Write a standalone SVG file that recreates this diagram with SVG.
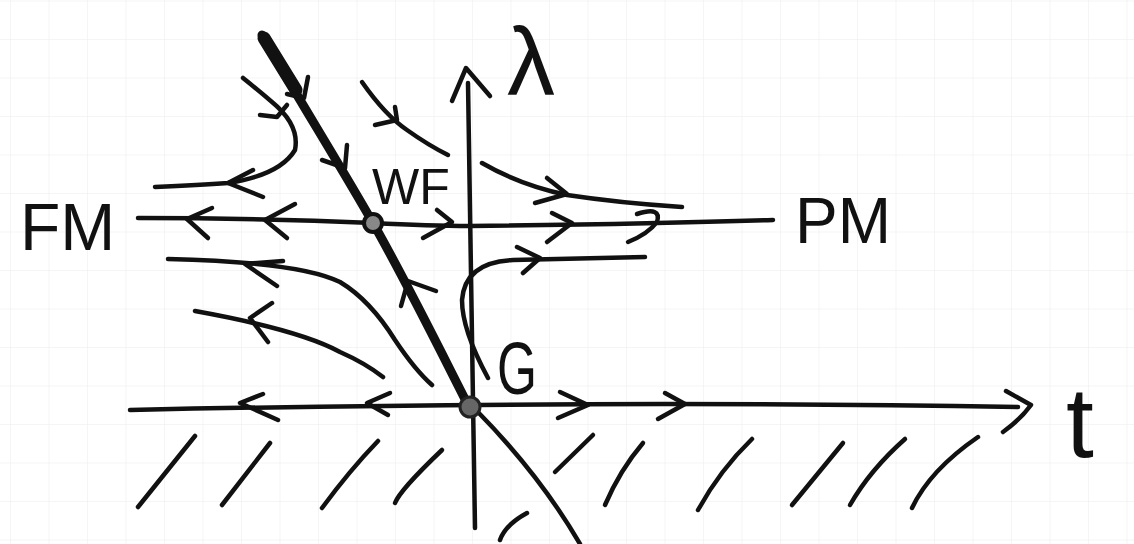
<svg xmlns="http://www.w3.org/2000/svg" width="1134" height="544" viewBox="0 0 1134 544">
<defs>
<pattern id="grid" width="38.5" height="38.5" patternUnits="userSpaceOnUse" x="11" y="1.5">
<path d="M38.5 0 V38.5 M0 38.5 H38.5" fill="none" stroke="#ececec" stroke-width="1"/>
</pattern>
</defs>
<style>
.s{fill:none;stroke:#111;stroke-width:4.5;stroke-linecap:round;stroke-linejoin:round}
.thick{fill:none;stroke:#111;stroke-width:9;stroke-linecap:round;stroke-linejoin:round}
.lbl{font-family:"Liberation Sans",Arial,sans-serif;fill:#111}
</style>
<rect width="1134" height="544" fill="#fff"/>
<rect width="1134" height="544" fill="url(#grid)"/>

<g id="t-axis">
<path class="s" d="M130,410 Q600,400 1018,407"/>
<path class="s" d="M1006,391 L1031,405 Q1020,420 1003,432"/>
<text class="lbl" x="1066" y="457" font-size="100">t</text>
</g>

<g id="lambda-axis">
<path class="s" d="M475,528 L468,83"/>
<path class="s" d="M452,101 L466,68 L490,96"/>
<text class="lbl" x="507" y="95" font-size="96" textLength="48" lengthAdjust="spacingAndGlyphs">λ</text>
</g>

<g id="hatching">
<path class="s" d="M138,507 L195,436"/>
<path class="s" d="M222,505 L270,443"/>
<path class="s" d="M322,508 Q350,470 378,441"/>
<path class="s" d="M395,503 Q400,490 442,450"/>
<path class="s" d="M555,472 L593,435"/>
<path class="s" d="M605,505 Q620,470 643,443"/>
<path class="s" d="M698,510 Q720,470 752,439"/>
<path class="s" d="M792,505 L843,443"/>
<path class="s" d="M850,505 Q870,470 905,439"/>
<path class="s" d="M912,508 Q930,470 978,437"/>
<path class="s" d="M476,410 Q540,475 580,544"/>
<path class="s" d="M500,540 Q505,525 527,513"/>
</g>

<g id="connectors">
<path class="s" d="M138,218 Q260,218 373,223 Q430,226 470,226 Q650,224 773,220"/>
<path class="s" d="M212,208 L187,219 L208,238"/>
<path class="s" d="M295,204 L265,220 L287,238"/>
<path class="s" d="M437,210 L452,222 L423,238"/>
<path class="s" d="M552,213 L572,223 L547,242"/>
<path class="s" d="M637,214 Q662,206 657,222 Q648,234 628,242"/>
<path class="s" d="M263,394 L240,403 L278,420"/>
<path class="s" d="M390,393 L367,403 L388,415"/>
<path class="s" d="M560,392 L588,405 L558,418"/>
<path class="s" d="M665,393 L685,404 L658,419"/>
<path class="thick" d="M262,35 C290,85 340,165 373,223 S440,350 468,405"/>
<path fill="none" stroke="#111" stroke-width="13" stroke-linecap="round" d="M264,38 L296,90"/>
<path class="s" d="M287,94 L304,98 L308,77"/>
<path class="s" d="M322,160 L345,168 L347,145"/>
<path class="s" d="M436,291 L408,281 L401,306"/>
<path class="s" d="M155,187 Q200,185 228,183 Q280,175 295,150 Q300,125 272,102 Q258,90 243,78"/>
<path class="s" d="M253,170 L228,183 L263,197"/>
<path class="s" d="M260,115 L277,117 L287,105"/>
<path class="s" d="M362,82 Q385,115 407,130 Q428,145 448,155"/>
<path class="s" d="M375,125 L397,120 L395,107"/>
<path class="s" d="M482,163 Q520,185 567,195 Q620,203 682,207"/>
<path class="s" d="M547,178 L567,194 L535,203"/>
<path class="s" d="M488,378 Q462,330 462,300 Q465,262 513,260 L645,257"/>
<path class="s" d="M517,247 L540,258 L523,273"/>
<path class="s" d="M168,259 Q300,262 340,282 Q370,300 395,340 Q415,370 432,385"/>
<path class="s" d="M283,261 L245,264 L277,286"/>
<path class="s" d="M195,311 Q300,330 340,352 Q365,363 383,377"/>
<path class="s" d="M272,303 L250,318 L268,342"/>
</g>

<g id="FM"><text class="lbl" x="20" y="250" font-size="66">FM</text></g>
<g id="PM"><text class="lbl" x="795" y="243" font-size="64">PM</text></g>
<g id="WF">
<circle cx="373" cy="223" r="9" fill="#888" stroke="#111" stroke-width="4"/>
<text class="lbl" x="372" y="204" font-size="50">WF</text>
</g>
<g id="G">
<circle cx="470" cy="407" r="10" fill="#666" stroke="#222" stroke-width="3"/>
<text class="lbl" x="497" y="394" font-size="75" textLength="40" lengthAdjust="spacingAndGlyphs">G</text>
</g>
</svg>
